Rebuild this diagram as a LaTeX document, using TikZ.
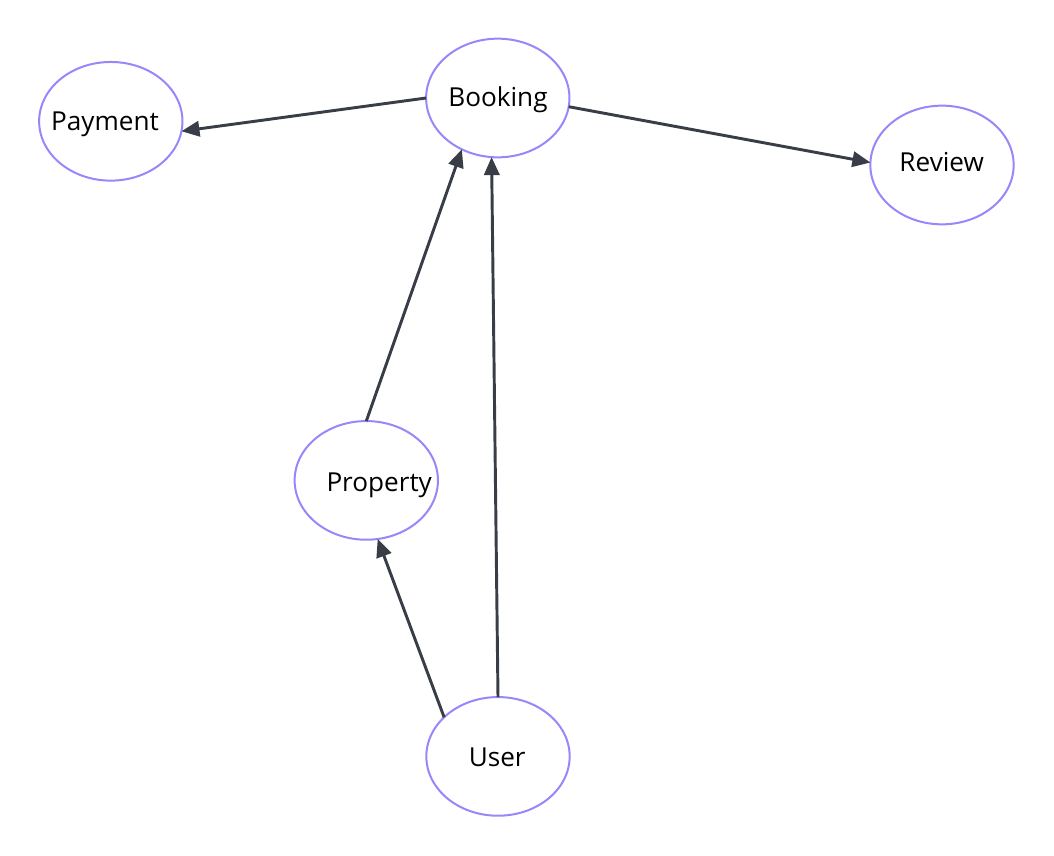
\documentclass[tikz,border=0pt]{standalone}
\usepackage{fontspec}
\setmainfont{Open Sans}
\usetikzlibrary{shapes.geometric,arrows.meta}
\definecolor{edgec}{HTML}{383D48}
\definecolor{ringc}{HTML}{9688FA}
\tikzset{
  ent/.style={ellipse, draw=ringc, line width=1.5pt, fill=white, minimum width=107.5pt, minimum height=89pt, inner sep=0pt, outer sep=0pt},
  lbl/.style={anchor=base, font=\fontsize{19.6}{22}\selectfont, text=black, inner sep=0pt},
  rel/.style={draw=edgec, line width=2.2pt, -{Triangle[length=13.5pt,width=11.5pt]}}
}
\begin{document}
\begin{tikzpicture}[x=0.75pt,y=-0.75pt]
\useasboundingbox (0,0) rectangle (1054,856);
\node[ent] (payment) at (110.8,121.3) {};
\node[ent] (booking) at (497.8,98) {};
\node[ent] (review) at (942,165) {};
\node[ent] (property) at (366.3,480.4) {};
\node[ent] (user) at (498,756.4) {};
\node[lbl] (tpayment) at (105,131) {Payment};
\node[lbl] (tbooking) at (498,107) {Booking};
\node[lbl] (treview) at (941.7,171.7) {Review};
\node[lbl] (tproperty) at (379.2,491) {Property};
\node[lbl] (tuser) at (497.2,766.7) {User};
\draw[rel] (booking.180) -- (payment.-8);
\draw[rel] (booking.-7.2) -- (review.178.4);
\draw[rel] (property.90) -- (booking.-125.4);
\draw[rel] (user.90) -- (booking.-96.8);
\draw[rel] (user.144) -- (property.-79.6);
\end{tikzpicture}
\end{document}
